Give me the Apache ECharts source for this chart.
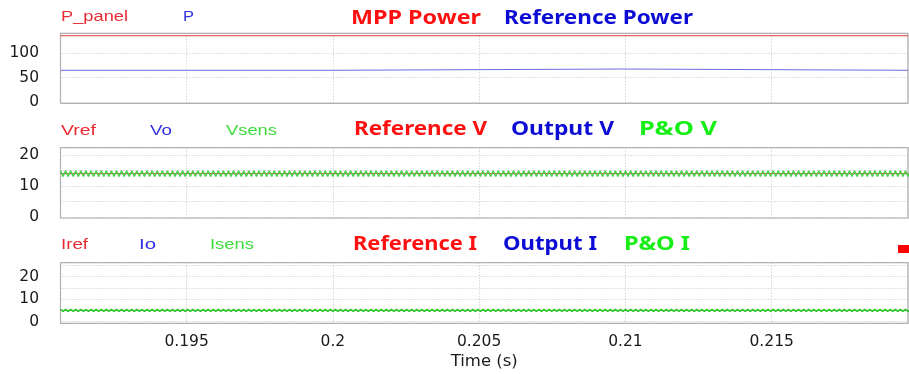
<!DOCTYPE html>
<html><head><meta charset="utf-8">
<script src="https://cdn.jsdelivr.net/npm/echarts@6/dist/echarts.min.js"></script>
<style>html,body{margin:0;padding:0;background:#fff}#c{width:909px;height:374px}</style>
</head><body><div id="c"></div>
<script>
// ---------------- data ----------------
const timeRange = [0.19069, 0.21966];              // visible time window (s)
const timeTickLabels = ['0.195', '0.2', '0.205', '0.21', '0.215'];
const powerTickLabels = ['0', '50', '100'];
const voltageTickLabels = ['0', '10', '20'];
const currentTickLabels = ['0', '10', '20'];

const seriesNames = ['P_panel', 'P', 'Vref', 'Vo', 'Vsens', 'Iref', 'Io', 'Isens'];
const panelTitles = [['MPP Power', 'Reference Power'], ['Reference V', 'Output V', 'P&O V'], ['Reference I', 'Output I', 'P&O I']];

// panel 1 : power (W)
const pPanelTimes = [0.19069, 0.21966];
const pPanelValues = [135.0, 135.0];
const pTimes = [0.19069, 0.2, 0.2, 0.21, 0.21, 0.21966];     // trace corners
const pValues = [64.7, 64.7, 67.3, 67.3, 64.7, 64.7];

// panel 2 : voltage (V)
const vrefTimes = [0.19069, 0.21966];
const vrefValues = [14.0, 14.0];
const vsensStart = 0.19069;          // first sample time (s)
const vsensHalfPeriod = 0.000087;    // sample spacing = half a ripple period (s)
const vsensValues = [
 14.9,13.1,14.9,13.1,14.9,13.1,14.9,13.1,14.9,13.1,14.9,13.1,14.9,13.1,14.9,13.1,14.9,13.1,14.9,13.1,14.9,13.1,14.9,13.1,
 14.9,13.1,14.9,13.1,14.9,13.1,14.9,13.1,14.9,13.1,14.9,13.1,14.9,13.1,14.9,13.1,14.9,13.1,14.9,13.1,14.9,13.1,14.9,13.1,
 14.9,13.1,14.9,13.1,14.9,13.1,14.9,13.1,14.9,13.1,14.9,13.1,14.9,13.1,14.9,13.1,14.9,13.1,14.9,13.1,14.9,13.1,14.9,13.1,
 14.9,13.1,14.9,13.1,14.9,13.1,14.9,13.1,14.9,13.1,14.9,13.1,14.9,13.1,14.9,13.1,14.9,13.1,14.9,13.1,14.9,13.1,14.9,13.1,
 14.9,13.1,14.9,13.1,14.9,13.1,14.9,13.1,14.9,13.1,14.9,13.1,14.9,13.1,14.9,13.1,14.9,13.1,14.9,13.1,14.9,13.1,14.9,13.1,
 14.9,13.1,14.9,13.1,14.9,13.1,14.9,13.1,14.9,13.1,14.9,13.1,14.9,13.1,14.9,13.1,14.9,13.1,14.9,13.1,14.9,13.1,14.9,13.1,
 14.9,13.1,14.9,13.1,14.9,13.1,14.9,13.1,14.9,13.1,14.9,13.1,14.9,13.1,14.9,13.1,14.9,13.1,14.9,13.1,14.9,13.1,14.9,13.1,
 14.9,13.1,14.9,13.1,14.9,13.1,14.9,13.1,14.9,13.1,14.9,13.1,14.9,13.1,14.9,13.1,14.9,13.1,14.9,13.1,14.9,13.1,14.9,13.1,
 14.9,13.1,14.9,13.1,14.9,13.1,14.9,13.1,14.9,13.1,14.9,13.1,14.9,13.1,14.9,13.1,14.9,13.1,14.9,13.1,14.9,13.1,14.9,13.1,
 14.9,13.1,14.9,13.1,14.9,13.1,14.9,13.1,14.9,13.1,14.9,13.1,14.9,13.1,14.9,13.1,14.9,13.1,14.9,13.1,14.9,13.1,14.9,13.1,
 14.9,13.1,14.9,13.1,14.9,13.1,14.9,13.1,14.9,13.1,14.9,13.1,14.9,13.1,14.9,13.1,14.9,13.1,14.9,13.1,14.9,13.1,14.9,13.1,
 14.9,13.1,14.9,13.1,14.9,13.1,14.9,13.1,14.9,13.1,14.9,13.1,14.9,13.1,14.9,13.1,14.9,13.1,14.9,13.1,14.9,13.1,14.9,13.1,
 14.9,13.1,14.9,13.1,14.9,13.1,14.9,13.1,14.9,13.1,14.9,13.1,14.9,13.1,14.9,13.1,14.9,13.1,14.9,13.1,14.9,13.1,14.9,13.1,
 14.9,13.1,14.9,13.1,14.9,13.1,14.9,13.1,14.9,13.1,14.9,13.1,14.9,13.1,14.9,13.1,14.9,13.1,14.9,13.1,14.9,13.1,14.9,13.1
];
const voValues = vsensValues;        // Vo lies exactly under Vsens

// panel 3 : current (A)
const irefTimes = [0.19069, 0.21966];
const irefValues = [5.0, 5.0];
const isensStart = 0.19069;
const isensHalfPeriod = 0.000087;
const isensValues = [
 5.45,4.55,5.45,4.55,5.45,4.55,5.45,4.55,5.45,4.55,5.45,4.55,5.45,4.55,5.45,4.55,5.45,4.55,5.45,4.55,5.45,4.55,5.45,4.55,
 5.45,4.55,5.45,4.55,5.45,4.55,5.45,4.55,5.45,4.55,5.45,4.55,5.45,4.55,5.45,4.55,5.45,4.55,5.45,4.55,5.45,4.55,5.45,4.55,
 5.45,4.55,5.45,4.55,5.45,4.55,5.45,4.55,5.45,4.55,5.45,4.55,5.45,4.55,5.45,4.55,5.45,4.55,5.45,4.55,5.45,4.55,5.45,4.55,
 5.45,4.55,5.45,4.55,5.45,4.55,5.45,4.55,5.45,4.55,5.45,4.55,5.45,4.55,5.45,4.55,5.45,4.55,5.45,4.55,5.45,4.55,5.45,4.55,
 5.45,4.55,5.45,4.55,5.45,4.55,5.45,4.55,5.45,4.55,5.45,4.55,5.45,4.55,5.45,4.55,5.45,4.55,5.45,4.55,5.45,4.55,5.45,4.55,
 5.45,4.55,5.45,4.55,5.45,4.55,5.45,4.55,5.45,4.55,5.45,4.55,5.45,4.55,5.45,4.55,5.45,4.55,5.45,4.55,5.45,4.55,5.45,4.55,
 5.45,4.55,5.45,4.55,5.45,4.55,5.45,4.55,5.45,4.55,5.45,4.55,5.45,4.55,5.45,4.55,5.45,4.55,5.45,4.55,5.45,4.55,5.45,4.55,
 5.45,4.55,5.45,4.55,5.45,4.55,5.45,4.55,5.45,4.55,5.45,4.55,5.45,4.55,5.45,4.55,5.45,4.55,5.45,4.55,5.45,4.55,5.45,4.55,
 5.45,4.55,5.45,4.55,5.45,4.55,5.45,4.55,5.45,4.55,5.45,4.55,5.45,4.55,5.45,4.55,5.45,4.55,5.45,4.55,5.45,4.55,5.45,4.55,
 5.45,4.55,5.45,4.55,5.45,4.55,5.45,4.55,5.45,4.55,5.45,4.55,5.45,4.55,5.45,4.55,5.45,4.55,5.45,4.55,5.45,4.55,5.45,4.55,
 5.45,4.55,5.45,4.55,5.45,4.55,5.45,4.55,5.45,4.55,5.45,4.55,5.45,4.55,5.45,4.55,5.45,4.55,5.45,4.55,5.45,4.55,5.45,4.55,
 5.45,4.55,5.45,4.55,5.45,4.55,5.45,4.55,5.45,4.55,5.45,4.55,5.45,4.55,5.45,4.55,5.45,4.55,5.45,4.55,5.45,4.55,5.45,4.55,
 5.45,4.55,5.45,4.55,5.45,4.55,5.45,4.55,5.45,4.55,5.45,4.55,5.45,4.55,5.45,4.55,5.45,4.55,5.45,4.55,5.45,4.55,5.45,4.55,
 5.45,4.55,5.45,4.55,5.45,4.55,5.45,4.55,5.45,4.55,5.45,4.55,5.45,4.55,5.45,4.55,5.45,4.55,5.45,4.55,5.45,4.55,5.45,4.55
];
const ioValues = isensValues;        // Io lies exactly under Isens

// ---------------- layout / style ----------------
const panels = [
  { top: 33.3, height: 70, yMin: -2.5, yMax: 140, split: 3, labels: powerTickLabels },
  { top: 147.7, height: 70.3, yMin: -0.4, yMax: 22.4, split: 5, labels: voltageTickLabels },
  { top: 262.7, height: 60.6, yMin: -0.7, yMax: 26.2, split: 5, labels: currentTickLabels }
];
const gridLeft = 60.5, gridWidth = 847.5;
const C = { red: '#e03a3a', blue: '#6a6ae0', green: '#44d844', green2: '#2ccc2c' };
const dotted = { color: '#c4c4c4', width: 1, type: [1, 2] };

// text layout: [text, left, right, centerY, color, bold]
const nameFont = { family: '"Liberation Sans", Arial, sans-serif', size: 15, weight: 'normal' };
const titleFont = { family: '"Noto Sans", "Open Sans", sans-serif', size: 19, weight: 'bold' };
const textLayout = [
  [seriesNames[0], 61, 128, 16.5, '#ea2a32', false],
  [seriesNames[1], 183, 194, 16.5, '#3030e0', false],
  [seriesNames[2], 61, 96, 130.5, '#ea2a32', false],
  [seriesNames[3], 150, 172, 130.5, '#3030e0', false],
  [seriesNames[4], 226, 277, 130.5, '#3ddc3d', false],
  [seriesNames[5], 61, 88, 245, '#ea2a32', false],
  [seriesNames[6], 139, 156, 245, '#3030e0', false],
  [seriesNames[7], 210, 254, 245, '#3ddc3d', false],
  [panelTitles[0][0], 351, 481, 18.5, '#ff1010', true],
  [panelTitles[0][1], 504, 693, 18.5, '#0c0cd4', true],
  [panelTitles[1][0], 354, 487, 130, '#ff1010', true],
  [panelTitles[1][1], 511, 614, 130, '#0c0cd4', true],
  [panelTitles[1][2], 639, 717, 130, '#16ee16', true],
  [panelTitles[2][0], 353, 477, 245, '#ff1010', true],
  [panelTitles[2][1], 503, 597, 245, '#0c0cd4', true],
  [panelTitles[2][2], 624, 690, 245, '#16ee16', true]
];

const ctx = document.createElement('canvas').getContext('2d');
function fontStr(f) { return f.weight + ' ' + f.size + 'px ' + f.family; }
const graphics = textLayout.map(([text, x1, x2, yc, color, bold]) => {
  const f = bold ? titleFont : nameFont;
  ctx.font = fontStr(f);
  const w = ctx.measureText(text).width;
  return {
    type: 'text', x: x1, y: yc, scaleX: (x2 - x1) / w, silent: true,
    style: { text, fill: color, fontFamily: f.family, fontSize: f.size, fontWeight: f.weight, align: 'left', verticalAlign: 'middle' }
  };
});
graphics.push({ type: 'rect', shape: { x: 898, y: 245, width: 11, height: 8 }, style: { fill: '#ff0000' }, silent: true });

function pairs(ts, vs) { return vs.map((v, i) => [ts[i], v]); }
function sampled(t0, dt, vs) { return vs.map((v, i) => [t0 + i * dt, v]); }
function findLabel(list, v) { const s = list.find(l => Math.abs(+l - v) < 1e-9); return s === undefined ? '' : s; }

const axisFont = { fontFamily: '"DejaVu Sans", sans-serif', fontSize: 15.5, color: '#1a1a1a' };

const option = {
  animation: false,
  backgroundColor: '#ffffff',
  grid: panels.map(p => ({ left: gridLeft, top: p.top, width: gridWidth, height: p.height, show: true, borderColor: '#a8a8a8', borderWidth: 1.2, backgroundColor: 'transparent' })),
  xAxis: panels.map((p, i) => ({
    type: 'value', gridIndex: i, min: timeRange[0], max: timeRange[1], splitNumber: 5,
    axisLine: { show: false }, axisTick: { show: false },
    axisLabel: i === 2 ? Object.assign({ show: true, margin: 11, showMinLabel: false, showMaxLabel: false, formatter: v => findLabel(timeTickLabels, v) }, axisFont) : { show: false },
    splitLine: { show: true, lineStyle: dotted },
    name: i === 2 ? 'Time (s)' : '', nameLocation: 'middle', nameGap: 29.5,
    nameTextStyle: { fontFamily: '"DejaVu Sans", sans-serif', fontSize: 16.5, color: '#1a1a1a' }
  })),
  yAxis: panels.map((p, i) => ({
    type: 'value', gridIndex: i, min: p.yMin, max: p.yMax, splitNumber: p.split,
    axisLine: { show: false }, axisTick: { show: false },
    axisLabel: Object.assign({ margin: 21.5, formatter: v => findLabel(p.labels, v) }, axisFont),
    splitLine: { show: true, lineStyle: dotted }
  })),
  graphic: graphics,
  series: [
    { name: seriesNames[0], type: 'line', xAxisIndex: 0, yAxisIndex: 0, data: pairs(pPanelTimes, pPanelValues), showSymbol: false, lineStyle: { color: C.red, width: 1 } },
    { name: seriesNames[1], type: 'line', xAxisIndex: 0, yAxisIndex: 0, data: pairs(pTimes, pValues), showSymbol: false, lineStyle: { color: C.blue, width: 1 } },
    { name: seriesNames[2], type: 'line', xAxisIndex: 1, yAxisIndex: 1, data: pairs(vrefTimes, vrefValues), showSymbol: false, lineStyle: { color: C.red, width: 1 } },
    { name: seriesNames[3], type: 'line', xAxisIndex: 1, yAxisIndex: 1, data: sampled(vsensStart, vsensHalfPeriod, voValues), showSymbol: false, lineStyle: { color: C.blue, width: 0.6 } },
    { name: seriesNames[4], type: 'line', xAxisIndex: 1, yAxisIndex: 1, data: sampled(vsensStart, vsensHalfPeriod, vsensValues), showSymbol: false, lineStyle: { color: C.green, width: 1.3 } },
    { name: seriesNames[5], type: 'line', xAxisIndex: 2, yAxisIndex: 2, data: pairs(irefTimes, irefValues), showSymbol: false, lineStyle: { color: C.red, width: 1 } },
    { name: seriesNames[6], type: 'line', xAxisIndex: 2, yAxisIndex: 2, data: sampled(isensStart, isensHalfPeriod, ioValues), showSymbol: false, lineStyle: { color: C.blue, width: 0.8 } },
    { name: seriesNames[7], type: 'line', xAxisIndex: 2, yAxisIndex: 2, data: sampled(isensStart, isensHalfPeriod, isensValues), showSymbol: false, lineStyle: { color: C.green2, width: 1.6 } }
  ]
};
const chart = echarts.init(document.getElementById('c'), null, { renderer: 'canvas' });
chart.setOption(option);
</script></body></html>
